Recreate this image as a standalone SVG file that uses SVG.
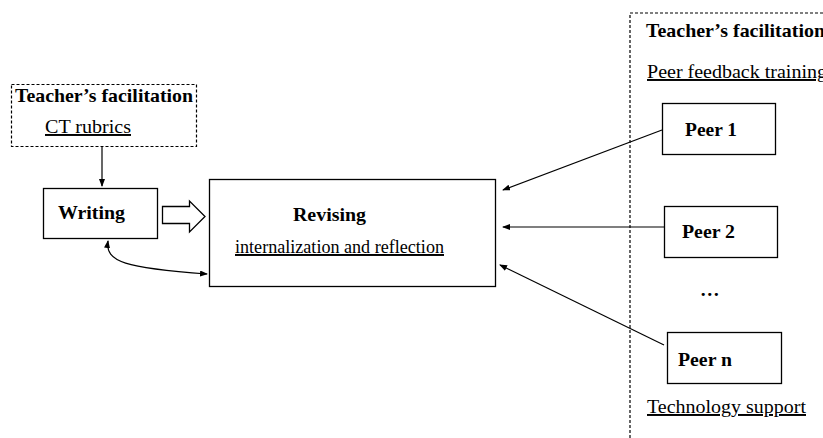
<svg xmlns="http://www.w3.org/2000/svg" width="823" height="438" viewBox="0 0 823 438">
<style>
.box{fill:#fff;stroke:#000;stroke-width:1.3}
.dash{fill:none;stroke:#000;stroke-width:1.2;stroke-dasharray:3 2}
.ln{fill:none;stroke:#000;stroke-width:1.2}
</style>
<defs>
<marker id="ah" markerWidth="8" markerHeight="6" refX="7" refY="3" orient="auto-start-reverse" markerUnits="userSpaceOnUse">
<path d="M0,0 L8,3 L0,6 Z" fill="#000"/>
</marker>
</defs>
<rect width="823" height="438" fill="#fff"/>
<g font-family="Liberation Serif, serif" font-size="19.5" fill="#000">
<g id="facilitation-left">
<rect class="dash" x="11.5" y="84.5" width="185" height="62"/>
<text font-weight="bold" x="15" y="102" textLength="178" lengthAdjust="spacingAndGlyphs">Teacher’s facilitation</text>
<text text-decoration="underline" x="45" y="133" textLength="86" lengthAdjust="spacingAndGlyphs">CT rubrics</text>
</g>
<g id="facilitation-right">
<rect class="dash" x="630" y="13" width="300" height="500"/>
<text font-weight="bold" x="646" y="37" textLength="179" lengthAdjust="spacingAndGlyphs">Teacher’s facilitation</text>
<text text-decoration="underline" x="647" y="78" textLength="180" lengthAdjust="spacingAndGlyphs">Peer feedback training</text>
<text font-weight="bold" x="700" y="296">…</text>
<text text-decoration="underline" x="647" y="413" textLength="159" lengthAdjust="spacingAndGlyphs">Technology support</text>
</g>
<g id="writing">
<rect class="box" x="43.5" y="188.5" width="114" height="50"/>
<text font-weight="bold" x="58" y="219" textLength="67" lengthAdjust="spacingAndGlyphs">Writing</text>
</g>
<g id="revising">
<rect class="box" x="209.5" y="179.5" width="286" height="107"/>
<text font-weight="bold" x="293" y="221" textLength="73" lengthAdjust="spacingAndGlyphs">Revising</text>
<text text-decoration="underline" x="235" y="253" textLength="209" lengthAdjust="spacingAndGlyphs">internalization and reflection</text>
</g>
<g id="peer1">
<rect class="box" x="662.5" y="103.5" width="113" height="51"/>
<text font-weight="bold" x="685" y="136" textLength="52" lengthAdjust="spacingAndGlyphs">Peer 1</text>
</g>
<g id="peer2">
<rect class="box" x="664.5" y="206.5" width="113" height="51"/>
<text font-weight="bold" x="682" y="238" textLength="53" lengthAdjust="spacingAndGlyphs">Peer 2</text>
</g>
<g id="peern">
<rect class="box" x="667.5" y="332.5" width="114" height="51"/>
<text font-weight="bold" x="678" y="366" textLength="54" lengthAdjust="spacingAndGlyphs">Peer n</text>
</g>
</g>
<g id="connectors">
<path class="ln" d="M102,147 L102,186" marker-end="url(#ah)"/>
<path class="box" d="M162.5,206.5 L189.5,206.5 L189.5,201 L205,216.5 L189.5,232 L189.5,223.5 L162.5,223.5 Z"/>
<path class="ln" d="M108,241 C105,262 125,268 207,274" marker-start="url(#ah)" marker-end="url(#ah)"/>
<path class="ln" d="M662,130 L503,190" marker-end="url(#ah)"/>
<path class="ln" d="M664,227 L503,227" marker-end="url(#ah)"/>
<path class="ln" d="M664,345 L500,265" marker-end="url(#ah)"/>
</g>
</svg>
